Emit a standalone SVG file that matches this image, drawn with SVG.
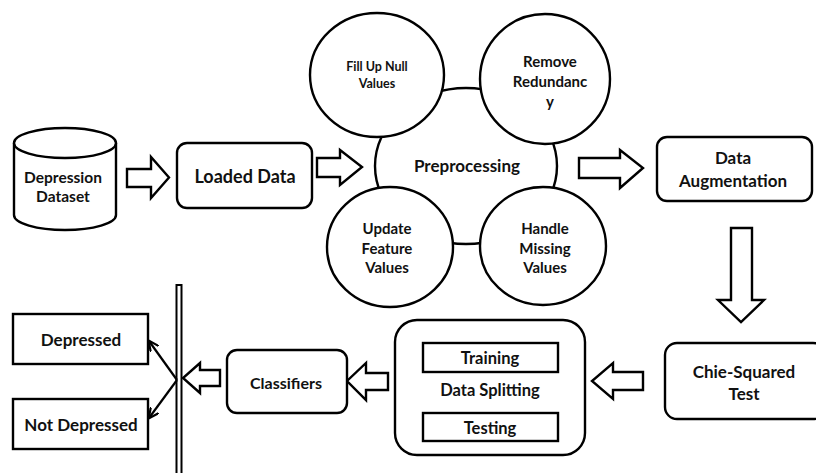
<svg xmlns="http://www.w3.org/2000/svg" width="816" height="473" viewBox="0 0 816 473">
<defs>
<style>
.s{fill:#fff;stroke:#000;stroke-width:2.4}
.t{font-family:Lato,"Open Sans","Liberation Sans",sans-serif;font-weight:bold;fill:#111;text-anchor:middle}
.ar{fill:#fff;stroke:#000;stroke-width:2.4;stroke-linejoin:miter}
.ln{fill:none;stroke:#000;stroke-width:2.2}
</style>
<marker id="ah" viewBox="0 0 10 10" refX="9" refY="5" markerWidth="11" markerHeight="11" markerUnits="userSpaceOnUse" orient="auto">
<path d="M0,0.5 L9.5,5 L0,9.5" fill="none" stroke="#000" stroke-width="2"/>
</marker>
</defs>
<rect width="816" height="473" fill="#fff"/>

<g id="connectors">
<path class="ar" d="M127,169 L151,169 L151,157 L169,177.5 L151,198 L151,187 L127,187 Z"/>
<path class="ar" d="M317,158 L340,158 L340,150 L362,167 L340,185 L340,177 L317,177 Z"/>
<path class="ar" d="M579,158 L620,158 L620,150 L643,168 L620,188 L620,178 L579,178 Z"/>
<path class="ar" d="M731,228 L752,228 L752,300 L764,300 L741,322 L718,300 L731,300 Z"/>
<path class="ar" d="M643,372 L613,372 L613,363 L592,381 L613,399 L613,390 L643,390 Z"/>
<path class="ar" d="M388,373 L366,373 L366,363 L347,381 L366,400 L366,390 L388,390 Z"/>
<path class="ar" d="M220,370 L200,370 L200,363 L183,378 L200,393 L200,386 L220,386 Z"/>
<rect x="176.5" y="285" width="5" height="195" fill="#fff" stroke="#000" stroke-width="2"/>
<line class="ln" x1="177" y1="380" x2="149" y2="341" marker-end="url(#ah)"/>
<line class="ln" x1="177" y1="380" x2="149" y2="418" marker-end="url(#ah)"/>
</g>

<g id="dataset">
<path class="s" d="M14,143 L14,215 A51,15 0 0 0 116,215 L116,143"/>
<ellipse class="s" cx="65" cy="143" rx="51" ry="15"/>
<text class="t" x="63" y="183" font-size="15.5">Depression</text>
<text class="t" x="63" y="202" font-size="15.5">Dataset</text>
</g>

<g id="loaded">
<rect class="s" x="177" y="143" width="135" height="65" rx="10"/>
<text class="t" x="245" y="183" font-size="18">Loaded Data</text>
</g>

<g id="preprocessing">
<ellipse class="s" cx="466" cy="166" rx="91" ry="78"/>
<text class="t" x="467" y="172" font-size="17">Preprocessing</text>
</g>

<g id="fillnull">
<ellipse class="s" cx="377" cy="75" rx="67" ry="62"/>
<text class="t" x="377" y="71" font-size="12.5">Fill Up Null</text>
<text class="t" x="377" y="88" font-size="12.5">Values</text>
</g>

<g id="redundancy">
<ellipse class="s" cx="545" cy="79" rx="65" ry="65"/>
<text class="t" x="550" y="67" font-size="15">Remove</text>
<text class="t" x="550" y="87" font-size="15">Redundanc</text>
<text class="t" x="550" y="107" font-size="15">y</text>
</g>

<g id="update">
<ellipse class="s" cx="390" cy="247" rx="63" ry="60"/>
<text class="t" x="387" y="234" font-size="15">Update</text>
<text class="t" x="387" y="254" font-size="15">Feature</text>
<text class="t" x="387" y="273" font-size="15">Values</text>
</g>

<g id="missing">
<ellipse class="s" cx="543" cy="246" rx="63" ry="59"/>
<text class="t" x="545" y="234" font-size="15">Handle</text>
<text class="t" x="545" y="254" font-size="15">Missing</text>
<text class="t" x="545" y="273" font-size="15">Values</text>
</g>

<g id="augmentation">
<rect class="s" x="657" y="137" width="155" height="64" rx="10"/>
<text class="t" x="733" y="164" font-size="17">Data</text>
<text class="t" x="733" y="187" font-size="17">Augmentation</text>
</g>

<g id="chisquared">
<rect class="s" x="665" y="343" width="160" height="76" rx="12"/>
<text class="t" x="744" y="378" font-size="17">Chie-Squared</text>
<text class="t" x="744" y="400" font-size="17">Test</text>
</g>

<g id="splitting">
<rect class="s" x="395" y="320" width="190" height="135" rx="22"/>
<rect class="s" x="423" y="343" width="135" height="29"/>
<text class="t" x="490" y="364" font-size="16.5">Training</text>
<text class="t" x="490" y="396" font-size="16.5">Data Splitting</text>
<rect class="s" x="423" y="413" width="135" height="28"/>
<text class="t" x="490" y="434" font-size="16.5">Testing</text>
</g>

<g id="classifiers">
<rect class="s" x="227" y="350" width="120" height="63" rx="10"/>
<text class="t" x="286" y="389" font-size="16">Classifiers</text>
</g>

<g id="depressed">
<rect class="s" x="13" y="314" width="135" height="50"/>
<text class="t" x="81" y="346" font-size="17">Depressed</text>
</g>

<g id="notdepressed">
<rect class="s" x="13" y="399" width="135" height="50"/>
<text class="t" x="81" y="431" font-size="17">Not Depressed</text>
</g>
</svg>
